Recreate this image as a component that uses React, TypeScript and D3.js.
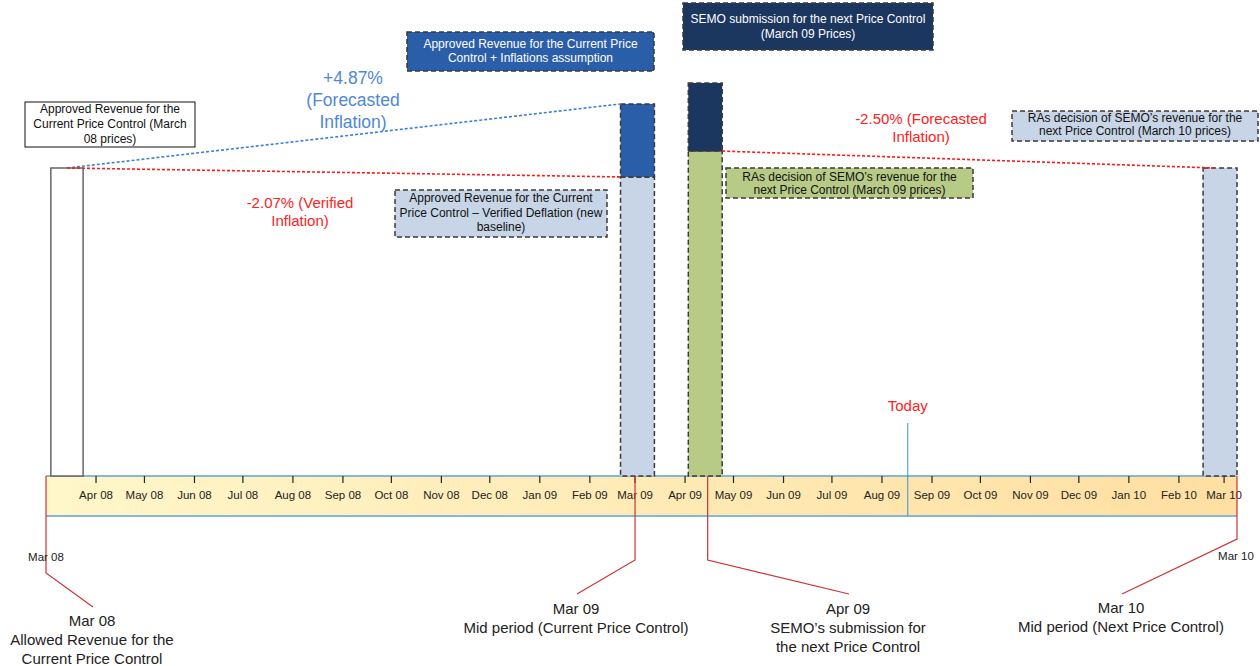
import * as d3 from "d3";

// ---------- Data ----------

const parse = d3.timeParse("%Y-%m-%d");

const timelineStart = "2008-03-01";
const timelineEnd = "2010-03-09";
const todayDate = "2009-08-17";

// Revenue columns sitting on the timeline
const barNames = ["Mar 08", "Mar 09", "Apr 09", "Mar 10"];
const barStarts = ["2008-03-04", "2009-02-20", "2009-04-03", "2010-02-16"];
const barEnds = ["2008-03-24", "2009-03-13", "2009-04-24", "2010-03-09"];
const baseValues = [100, 97.1, 105.5, 100]; // lower segment (index, schematic)
const topValues = [100, 120.8, 127.6, 100]; // upper segment top

// Dotted inflation links: [fromDate, fromValue, toDate, toValue]
const forecastLink: [string, number, string, number] = ["2008-03-14", 100, "2009-02-20", 120.8];
const verifiedLink: [string, number, string, number] = ["2008-03-14", 100, "2009-02-20", 97.1];
const nextLink: [string, number, string, number] = ["2009-04-24", 105.5, "2010-02-23", 100];

// Milestones with callouts under the timeline
const milestoneDates = ["2008-03-01", "2009-03-01", "2009-04-15", "2010-03-09"];
const milestoneLabels = [
  ["Mar 08", "Allowed Revenue for the", "Current Price Control"],
  ["Mar 09", "Mid period (Current Price Control)"],
  ["Apr 09", "SEMO\u2019s submission for", "the next Price Control"],
  ["Mar 10", "Mid period (Next Price Control)"],
];

const noteTexts = [
  ["Approved Revenue for the", "Current Price Control (March", "08 prices)"],
  ["Approved Revenue for the Current Price", "Control + Inflations assumption"],
  ["SEMO submission for the next Price Control", "(March 09 Prices)"],
  ["Approved Revenue for the Current", "Price Control \u2013 Verified Deflation (new", "baseline)"],
  ["RAs decision of SEMO\u2019s revenue for the", "next Price Control (March 09 prices)"],
  ["RAs decision of SEMO\u2019s revenue for the", "next Price Control (March 10 prices)"],
];

const forecastText = ["+4.87%", "(Forecasted", "Inflation)"];
const verifiedText = ["-2.07% (Verified", "Inflation)"];
const nextText = ["-2.50% (Forecasted", "Inflation)"];

// ---------- Styling ----------

const W = 1260;
const H = 666;
const FONT = "'Liberation Sans', Arial, sans-serif";
const BAND_TOP = 476;
const BAND_BOTTOM = 516;

const LIGHT = "#c8d5e6";
const BLUE = "#2b5ea9";
const NAVY = "#1b365f";
const GREEN = "#b7cb87";
const DASH_STROKE = "#3a3a3a";
const LEADER = "#cc3333";

// ---------- Component ----------

export default function App() {
  const x = d3
    .scaleTime()
    .domain([parse(timelineStart)!, parse(timelineEnd)!])
    .range([46, 1237]);
  const y = d3.scaleLinear().domain([0, 100]).range([BAND_TOP, 168]);

  const fmt = d3.timeFormat("%b %y");
  const months = x
    .ticks(d3.timeMonth.every(1)!)
    .filter((d) => +d > +parse(timelineStart)!);

  const linkPath = (l: [string, number, string, number]) =>
    d3.line()([
      [x(parse(l[0])!), y(l[1])],
      [x(parse(l[2])!), y(l[3])],
    ]) ?? "";

  // note box placement: x, y, w, h, fill, text colour, dashed?, first baseline, line step
  const noteLayout = [
    { x: 25, y: 102, w: 170, h: 45, fill: "#fff", color: "#111", dashed: false, base: 113, step: 15 },
    { x: 407, y: 32, w: 247, h: 39, fill: BLUE, color: "#fff", dashed: true, base: 48, step: 14 },
    { x: 683, y: 3, w: 250, h: 47, fill: NAVY, color: "#fff", dashed: true, base: 23, step: 15 },
    { x: 395, y: 190, w: 212, h: 47, fill: LIGHT, color: "#111", dashed: true, base: 202, step: 14.5 },
    { x: 726, y: 168, w: 247, h: 30, fill: GREEN, color: "#111", dashed: true, base: 181, step: 13 },
    { x: 1012, y: 111, w: 246, h: 30, fill: LIGHT, color: "#111", dashed: true, base: 122, step: 13 },
  ];

  // leader elbows and label anchors below the band
  const leaderLayout = [
    { elbowY: 573, endX: 93, endY: 607, labelY: 626 },
    { elbowY: 560, endX: 577, endY: 594, labelY: 614 },
    { elbowY: 560, endX: 849, endY: 594, labelY: 614 },
    { elbowY: 539, endX: 1122, endY: 594, labelY: 613 },
  ];

  const todayX = x(parse(todayDate)!);

  return (
    <svg
      width={W}
      height={H}
      style={{ position: "absolute", left: 0, top: 0, background: "#fff" }}
      fontFamily={FONT}
    >
      <defs>
        <linearGradient id="band" x1="0" x2="1" y1="0" y2="0">
          <stop offset="0%" stopColor="#fff6c9" />
          <stop offset="100%" stopColor="#ffdfa2" />
        </linearGradient>
      </defs>

      {/* timeline band */}
      <rect
        x={x.range()[0]}
        y={BAND_TOP}
        width={x.range()[1] - x.range()[0]}
        height={BAND_BOTTOM - BAND_TOP}
        fill="url(#band)"
      />
      <line x1={x.range()[0]} x2={x.range()[1]} y1={BAND_TOP} y2={BAND_TOP} stroke="#86b6d8" strokeWidth={2} />
      <line x1={x.range()[0]} x2={x.range()[1]} y1={BAND_BOTTOM} y2={BAND_BOTTOM} stroke="#86b6d8" strokeWidth={2} />

      {months.map((d) => (
        <g key={+d} transform={`translate(${x(d)},0)`}>
          <line y1={BAND_TOP} y2={BAND_TOP + 7} stroke="#222" strokeWidth={1.2} />
          <text y={499} textAnchor="middle" fontSize={11.5} fill="#222">
            {fmt(d)}
          </text>
        </g>
      ))}

      {/* revenue columns */}
      {barNames.map((name, i) => {
        const x0 = x(parse(barStarts[i])!);
        const x1 = x(parse(barEnds[i])!);
        const first = i === 0;
        const lowerFill = first ? "#fff" : i === 2 ? GREEN : LIGHT;
        const upperFill = i === 1 ? BLUE : NAVY;
        return (
          <g key={name}>
            <rect
              x={x0}
              y={y(baseValues[i])}
              width={x1 - x0}
              height={BAND_TOP - y(baseValues[i])}
              fill={lowerFill}
              stroke={first ? "#666" : DASH_STROKE}
              strokeWidth={1.5}
              strokeDasharray={first ? undefined : "5,3"}
            />
            {topValues[i] > baseValues[i] && (
              <rect
                x={x0}
                y={y(topValues[i])}
                width={x1 - x0}
                height={y(baseValues[i]) - y(topValues[i])}
                fill={upperFill}
                stroke={DASH_STROKE}
                strokeWidth={1.5}
                strokeDasharray="5,3"
              />
            )}
          </g>
        );
      })}

      {/* inflation links */}
      <path d={linkPath(forecastLink)} stroke="#3f7fd9" strokeWidth={1.6} strokeDasharray="3,2" fill="none" />
      <path d={linkPath(verifiedLink)} stroke="#ff1a1a" strokeWidth={1.6} strokeDasharray="3,2" fill="none" />
      <path d={linkPath(nextLink)} stroke="#ff1a1a" strokeWidth={1.6} strokeDasharray="3,2" fill="none" />

      <g textAnchor="middle" fontSize={17.5} fill="#4f88d6">
        {forecastText.map((t, k) => (
          <text key={t} x={353} y={84 + k * 22}>
            {t}
          </text>
        ))}
      </g>
      <g textAnchor="middle" fontSize={15} fill="#ff2222">
        {verifiedText.map((t, k) => (
          <text key={t} x={300} y={208 + k * 17.5}>
            {t}
          </text>
        ))}
        {nextText.map((t, k) => (
          <text key={t} x={921} y={124 + k * 18}>
            {t}
          </text>
        ))}
      </g>

      {/* note boxes */}
      {noteTexts.map((lines, i) => {
        const b = noteLayout[i];
        return (
          <g key={i}>
            <rect
              x={b.x}
              y={b.y}
              width={b.w}
              height={b.h}
              fill={b.fill}
              stroke={b.dashed ? DASH_STROKE : "#111"}
              strokeWidth={b.dashed ? 1.5 : 1}
              strokeDasharray={b.dashed ? "5,3" : undefined}
            />
            {lines.map((t, k) => (
              <text
                key={k}
                x={b.x + b.w / 2}
                y={b.base + k * b.step}
                textAnchor="middle"
                fontSize={12}
                fill={b.color}
              >
                {t}
              </text>
            ))}
          </g>
        );
      })}

      {/* today marker */}
      <line x1={todayX} x2={todayX} y1={423} y2={BAND_BOTTOM} stroke="#3d8fd6" strokeWidth={1} />
      <text x={todayX} y={411} textAnchor="middle" fontSize={15} fill="#ff2222">
        Today
      </text>

      {/* milestone leaders and callouts */}
      {milestoneDates.map((d, i) => {
        const mx = x(parse(d)!);
        const l = leaderLayout[i];
        const path = d3.line()([
          [mx, BAND_TOP],
          [mx, l.elbowY],
          [l.endX, l.endY],
        ]);
        return (
          <g key={d}>
            <path d={path ?? ""} stroke={LEADER} strokeWidth={1.2} fill="none" />
            {milestoneLabels[i].map((t, k) => (
              <text
                key={k}
                x={l.endX - 1}
                y={l.labelY + k * 19}
                textAnchor="middle"
                fontSize={15}
                fill="#222"
              >
                {t}
              </text>
            ))}
          </g>
        );
      })}

      {/* end-of-timeline labels */}
      <text x={x.range()[0]} y={561} textAnchor="middle" fontSize={11.5} fill="#222">
        {fmt(x.domain()[0])}
      </text>
      <text x={x.range()[1] - 1} y={560} textAnchor="middle" fontSize={11.5} fill="#222">
        {fmt(x.domain()[1])}
      </text>
    </svg>
  );
}
